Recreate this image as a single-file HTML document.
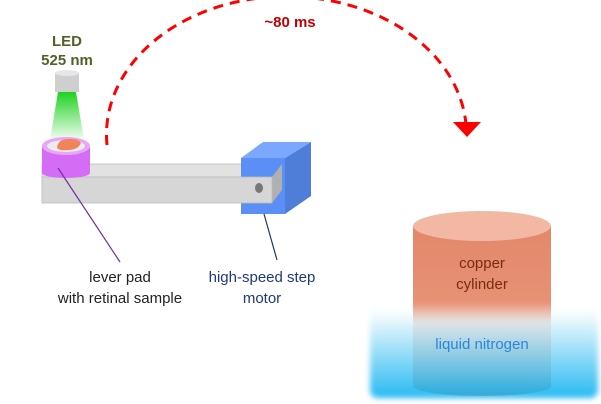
<!DOCTYPE html>
<html><head><style>
html,body{margin:0;padding:0;background:#fff;}
body{width:601px;height:404px;position:relative;overflow:hidden;font-family:"Liberation Sans",sans-serif;}
.t{position:absolute;font-size:15px;text-align:center;white-space:nowrap;}
</style></head><body>
<svg width="601" height="404" style="position:absolute;left:0;top:0">
<defs>
<linearGradient id="ln2" x1="0" y1="0" x2="0" y2="1">
<stop offset="0" stop-color="#fff" stop-opacity="0"/>
<stop offset="0.2" stop-color="#dff4fc"/>
<stop offset="1" stop-color="#00aef0"/>
</linearGradient>
<linearGradient id="beam" x1="0" y1="0" x2="0" y2="1">
<stop offset="0" stop-color="#1ed21e"/>
<stop offset="1" stop-color="#1ed21e" stop-opacity="0.05"/>
</linearGradient>
<linearGradient id="cu" x1="0" y1="0" x2="0" y2="1">
<stop offset="0" stop-color="#e3876a"/>
<stop offset="0.6" stop-color="#e89478"/>
<stop offset="1" stop-color="#ef9c82"/>
</linearGradient>
<filter id="blur"><feGaussianBlur stdDeviation="3"/></filter>
</defs>
<rect x="413" y="226" width="138" height="160" fill="url(#cu)"/>
<ellipse cx="482" cy="386" rx="69" ry="10" fill="#e89478"/>
<ellipse cx="482" cy="226" rx="69" ry="15" fill="#f2b8a4"/>
<rect x="370" y="303" width="228" height="95" rx="8" fill="url(#ln2)" filter="url(#blur)" opacity="0.85"/>
<path d="M107 145 A180 138 0 0 1 466 124" fill="none" stroke="#f00" stroke-width="3" stroke-dasharray="10 7"/>
<polygon points="453,122 481,122 467,137" fill="#f00"/>
<polygon points="58,92 76,92 84,140 50,140" fill="url(#beam)"/>
<rect x="55" y="73" width="24" height="19" fill="#cfcfcf"/>
<ellipse cx="67" cy="73" rx="12" ry="3" fill="#e6e6e6"/>
<polygon points="42,164 282,164 272,177 42,177" fill="#e2e2e2" stroke="#bbb" stroke-width="0.8"/>
<polygon points="241,158 263,142 311,142 285,158" fill="#7ba7ff"/>
<polygon points="285,158 311,142 311,196 285,214" fill="#4f7ed8"/>
<rect x="241" y="158" width="44" height="56" fill="#5b8ff5"/>
<polygon points="272,177 282,164 282,190 272,203" fill="#b0b0b0"/>
<rect x="42" y="177" width="230" height="26" fill="#d6d6d6" stroke="#bbb" stroke-width="0.8"/>
<ellipse cx="259" cy="188" rx="4" ry="5" fill="#777"/>
<rect x="42" y="147" width="48" height="26" fill="#d56cf6"/>
<ellipse cx="66" cy="173" rx="24" ry="5" fill="#d56cf6"/>
<ellipse cx="66" cy="146" rx="24" ry="9" fill="#e8a6f8"/>
<ellipse cx="66" cy="146" rx="19" ry="6" fill="#ececec"/>
<path d="M57 148 Q58 139 68 139 Q78 138 81 143 Q78 150 68 150 Q60 151 57 148Z" fill="#f2845c"/>
<line x1="58" y1="168" x2="120" y2="262" stroke="#7030a0" stroke-width="1.2"/>
<line x1="264" y1="214" x2="277" y2="260" stroke="#1f3864" stroke-width="1.2"/>
</svg>
<div class="t" style="left:37px;top:32px;width:60px;color:#4f6228;font-weight:bold;font-size:15px;line-height:19px">LED<br>525 nm</div>
<div class="t" style="left:250px;top:14px;width:80px;color:#c00000;font-weight:bold;font-size:15px">~80 ms</div>
<div class="t" style="left:40px;top:267px;width:160px;color:#222;line-height:21px">lever pad<br>with retinal sample</div>
<div class="t" style="left:187px;top:267px;width:150px;color:#1f3a7a;line-height:21px">high-speed step<br>motor</div>
<div class="t" style="left:412px;top:253px;width:140px;color:#7a2a10;line-height:21px">copper<br>cylinder</div>
<div class="t" style="left:412px;top:336px;width:140px;color:#2a86d8">liquid nitrogen</div>
</body></html>
